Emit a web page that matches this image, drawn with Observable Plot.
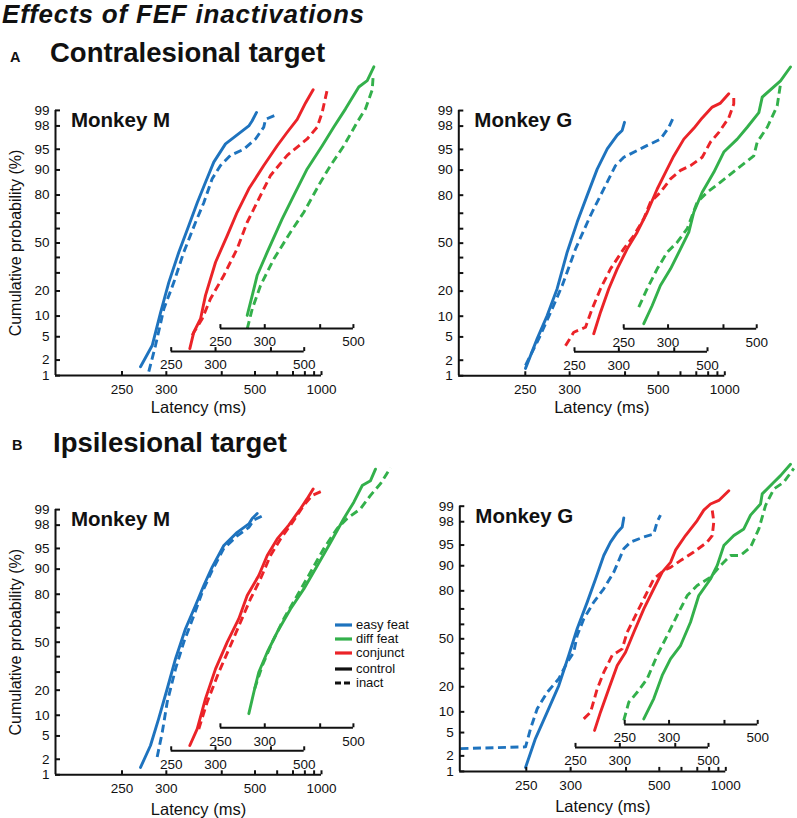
<!DOCTYPE html>
<html>
<head>
<meta charset="utf-8">
<script src="https://cdn.jsdelivr.net/npm/d3@7"></script>
<script src="https://cdn.jsdelivr.net/npm/@observablehq/plot@0.6"></script>
<style>
  body { margin: 0; background: #fff; }
  #fig { position: relative; width: 797px; height: 818px; font-family: Arial, "Liberation Sans", Helvetica, sans-serif; color: #111; }
  .t { position: absolute; white-space: nowrap; line-height: 1; }
  .leg { position: absolute; left: 335px; height: 12px; display: flex; align-items: center; font-size: 13px; line-height: 12px; }
  .leg svg { margin-right: 4px; }
</style>
</head>
<body>
<div id="fig">
  <div class="t" style="left:2px; top:1px; font-size:26px; letter-spacing:0.8px; font-weight:bold; font-style:italic;">Effects of FEF inactivations</div>
  <div class="t" style="left:10px; top:50px; font-size:14.5px; font-weight:bold;">A</div>
  <div class="t" style="left:50px; top:38.5px; font-size:27.5px; font-weight:bold;">Contralesional target</div>
  <div class="t" style="left:12px; top:438px; font-size:14.5px; font-weight:bold;">B</div>
  <div class="t" style="left:53px; top:428.5px; font-size:27.5px; font-weight:bold;">Ipsilesional target</div>
  <div id="legend"></div>
</div>
<script>
// ---------- data: [latency (ms), cumulative probability (%)] ----------
const condNames = ["easy feat", "diff feat", "conjunct"];
const condColors = ["#1e73be", "#33b04b", "#eb2328"];
const kindNames = ["control", "inact"];

// A, Monkey M
const A_M_easy_control = [[268.7,1.5],[282,3.6],[292.3,11],[303.4,24.5],[317.9,43.6],[333.9,62],[348.6,76],[364.4,85.7],[381.7,92.2],[409.2,95.9],[440.9,97.1],[477.8,98],[489.7,98.4],[505.8,98.9]];
const A_M_easy_inact = [[278,1.2],[286,3.6],[296.7,12.4],[310.5,24.5],[325.6,43.6],[345.4,64],[361,76],[378.2,87],[397,91.3],[422.3,93.8],[461.3,95],[502,96.6],[535.3,97.9],[543,98.5],[600,98.8]];
const A_M_conj_control = [[268.8,3.2],[273.2,5.9],[281,9.2],[287,17.9],[300,36.8],[316.7,55.2],[332.4,70.5],[353,82.9],[383.4,91.3],[415.6,95.6],[443.3,97.4],[475,98.5],[505,99.3],[536,99.64]];
const A_M_conj_inact = [[271.4,5.3],[283,9.2],[293.3,16.4],[311.6,28.4],[332.4,46],[350,64.2],[369.4,76.3],[398.9,88.2],[443.3,93.8],[511.5,96.6],[554,97.9],[578,98.9],[604.6,99.64]];
const A_M_diff_control = [[278,10.2],[284,17.9],[290,28.4],[303.4,43.6],[325.6,66.4],[345.3,79.8],[371,90.3],[405,95.6],[435.7,97.9],[472,99.07],[521,99.69],[558,99.78],[590.7,99.9]];
const A_M_diff_inact = [[278,6.6],[284,12.4],[294.4,22.8],[312.8,39],[339.4,57.5],[364.2,70.5],[400.8,85.7],[426.6,91.3],[466.4,95.6],[514.7,98.3],[550,99.07],[582.4,99.64],[587.5,99.84]];

// A, Monkey G
const A_G_easy_control = [[250.2,1.4],[261.7,4.7],[272.4,10.2],[284,21.2],[296.7,43.7],[310.6,64.4],[325.8,79.9],[342.6,90.3],[361.3,95.1],[382,97.1],[393.2,97.6],[398.7,98.3]];
const A_G_easy_inact = [[250.2,1.6],[263.4,4.7],[278.2,12.5],[290.3,22.9],[308.2,46],[331.1,68.6],[348.6,79.9],[364.4,87],[378.2,91.3],[397,93.4],[450.9,95.4],[508.4,96.6],[543,97.9],[563,98.6]];
const A_G_conj_control = [[269.5,5.6],[277.1,11.3],[287,21.2],[297.8,32.6],[311.7,46],[327.1,57.6],[344,70.6],[362.8,82.9],[380,89.3],[398.9,93.7],[424.4,96.6],[453.3,97.8],[480.8,98.6],[518.4,99.15],[554,99.3],[595,99.56]];
const A_G_conj_inact = [[241.8,3.6],[249.3,5.9],[260.8,7],[267.8,12.5],[277.1,21.2],[289.1,32.6],[306.8,46],[321.7,55.3],[338,66.6],[350,76.4],[369.4,81.4],[391.2,87],[415.6,89.9],[443.3,91.3],[480.8,93.4],[511.5,96.2],[546.4,97.4],[595,98.6],[623,99.27],[623,99.56]];
const A_G_diff_control = [[270.4,7.9],[280,13.7],[290,22.9],[303.4,32.6],[317.9,46],[331,57.6],[339.4,70.6],[354.6,81.4],[378,89.3],[400.8,94.5],[436.1,96.6],[466.6,97.9],[508.1,98.9],[521.6,99.48],[609,99.78],[670,99.9]];
const A_G_diff_inact = [[265,13.1],[274.2,21.2],[286,32.6],[298.9,43.7],[313,50.7],[328.4,60],[345.4,76.4],[364.4,81.4],[393.1,85.8],[436.1,90.4],[489.2,93.7],[502,96.2],[543,97.9],[591,99.2],[609,99.74]];

// B, Monkey M
const B_M_easy_control = [[268.7,1.4],[280,3.5],[290,9],[301.2,20.7],[313,38.6],[328.4,59.3],[345.4,74],[361,84],[378.2,90.6],[405,95.5],[440.9,97.3],[477.8,98.1],[489.7,98.5],[508.4,98.8]];
const B_M_easy_inact = [[288.1,2.2],[294.6,5.7],[301.2,14.7],[313,32],[325.6,50],[342.5,68],[357.9,81],[378.2,89.6],[405,95],[440.9,96.9],[477.8,97.8],[495.5,98.4],[535.3,98.7]];
const B_M_conj_control = [[268.8,3.5],[277.1,6.4],[287,16.1],[300,32],[316.7,50],[335.2,66],[350,79.4],[372.7,87.9],[391.2,93.6],[415.6,96.5],[448,98],[486.4,99.04],[511.5,99.41],[536,99.64]];
const B_M_conj_inact = [[278.9,6.4],[289.1,14.7],[304.5,29.9],[321.7,47.7],[338,63.7],[356.1,77.6],[376.4,86.7],[398.9,93.6],[424.4,96.5],[458.7,98.2],[498.5,99.18],[532,99.5],[578,99.6]];
const B_M_diff_control = [[279.9,10.5],[285.9,19],[292.1,29.9],[303.4,43],[317.9,57],[339.4,72],[364.2,82.5],[393.1,91],[426.6,96],[466.4,98.5],[501.5,99.3],[535.3,99.7],[573.7,99.77],[599.5,99.88]];
const B_M_diff_inact = [[286.8,20.6],[296.7,34],[310.5,50],[328.2,66],[351.5,79.4],[378,89],[409,95],[445.6,97.7],[477.8,98.5],[528.3,99.04],[573.7,99.5],[628,99.73],[693.5,99.89]];

// B, Monkey G
const B_G_easy_control = [[249.3,1.2],[258.9,4],[271.3,9.9],[284.8,20.6],[297.5,38.6],[309.1,57],[324.3,74],[338,85.3],[352.7,92.8],[365.8,95.5],[379.8,96.9],[391,97.5],[394.6,98.3]];
const B_G_easy_inact = [[200.4,2.7],[249.3,2.9],[254,5.7],[260.7,11],[271.3,17.4],[284.8,24.2],[295.4,34],[304.3,40.7],[309.1,52.3],[319,63.7],[335,74],[352.7,81],[372.6,87.9],[394.6,94.3],[411,95.5],[447.8,96.3],[480,96.7],[492,98],[504.5,98.5]];
const B_G_conj_control = [[269.3,5.4],[275.9,9.9],[285.8,19],[296.5,32],[307.9,40.7],[320.2,54.6],[336.4,70],[354.2,81],[370.9,87.9],[389,91],[400.6,94],[426.3,96.5],[460.8,98.1],[482.9,98.8],[507.6,99.1],[542,99.24],[590,99.53]];
const B_G_conj_inact = [[258,8],[265,9.9],[272.2,19],[279.8,27.9],[290,38.6],[303.2,43],[310.3,54.6],[325.5,68],[342.2,79.4],[354.2,85.3],[374.3,88.5],[389,89.5],[413,91.5],[450.2,93.6],[495,95.5],[514.4,96.5],[520.8,98],[514.4,98.8]];
const B_G_diff_control = [[269.3,8],[280.7,14.7],[291,26],[302,36.3],[316.4,45.3],[332.1,61.4],[346.5,77.6],[369,85.3],[383.3,90.1],[398.4,94.9],[423.9,96.5],[452.7,97.3],[474.4,98.5],[510.7,99.1],[517.6,99.45],[568.8,99.7],[603.5,99.79],[663.6,99.89]];
const B_G_diff_inact = [[249.1,7.6],[253.9,13.3],[262.3,17.4],[273.1,24.2],[284.8,38.6],[297.5,52.3],[311.4,66],[326.8,77.6],[343.6,82.5],[369,86],[390.8,90.1],[415.1,92.8],[442.7,92.8],[474.4,94.6],[504.3,97.3],[531,99.03],[568.8,99.57],[621.9,99.7],[686.3,99.86]];

// tick values
const yTickValues = [1, 2, 5, 10, 20, 30, 40, 50, 60, 70, 80, 90, 95, 98, 99];
const yTickLabels = [1, 2, 5, 10, 20, 50, 80, 90, 95, 98, 99];
const xMainTicks = [250, 300, 400, 500, 600, 700, 800, 900, 1000];
const xMainLabels = [250, 300, 500, 1000];
const xSubTicks = [250, 300, 400, 500];
const xSubLabels = [250, 300, 500];

// ---------- helpers ----------
function probit(p) {
  const a=[-3.969683028665376e+01,2.209460984245205e+02,-2.759285104469687e+02,1.383577518672690e+02,-3.066479806614716e+01,2.506628277459239e+00];
  const b=[-5.447609879822406e+01,1.615858368580409e+02,-1.556989798598866e+02,6.680131188771972e+01,-1.328068155288572e+01];
  const c=[-7.784894002430293e-03,-3.223964580411365e-01,-2.400758277161838e+00,-2.549671010229583e+00,4.374664141464968e+00,2.938163982698783e+00];
  const d=[7.784695709041462e-03,3.224671290700398e-01,2.445134137142996e+00,3.754408661907416e+00];
  const pl = 0.02425, ph = 1 - pl;
  let q, r;
  if (p < pl) { q = Math.sqrt(-2*Math.log(p)); return (((((c[0]*q+c[1])*q+c[2])*q+c[3])*q+c[4])*q+c[5])/((((d[0]*q+d[1])*q+d[2])*q+d[3])*q+1); }
  if (p <= ph) { q = p - 0.5; r = q*q; return (((((a[0]*r+a[1])*r+a[2])*r+a[3])*r+a[4])*r+a[5])*q/(((((b[0]*r+b[1])*r+b[2])*r+b[3])*r+b[4])*r+1); }
  q = Math.sqrt(-2*Math.log(1-p));
  return -(((((c[0]*q+c[1])*q+c[2])*q+c[3])*q+c[4])*q+c[5])/((((d[0]*q+d[1])*q+d[2])*q+d[3])*q+1);
}
const recip = t => -1000 / t;             // reciprocal latency axis (1/s)
const zOf = pct => probit(pct / 100);      // probit axis
const offsets = {"easy feat": 0, "conjunct": 0.74, "diff feat": 1.48}; // stacked offset axes
const PXX = 66.5, PXY = 57;                // pixels per unit
const FONT = "Arial, 'Liberation Sans', Helvetica, sans-serif";

function panel(cfg) {
  const rows = [];
  for (const [cond, kind, arr] of cfg.curves)
    for (const [lat, pct] of arr) rows.push({cond, kind, lat, pct, key: cond + kind});
  const X = r => recip(r.lat) + offsets[r.cond];
  const Y = r => zOf(r.pct);
  const z1 = zOf(1), z99 = zOf(99);
  const tickUp = 4 / PXY, tickRight = 5 / PXX;
  const subAxes = [["conjunct", -24], ["diff feat", -47]];
  const marks = [
    Plot.line(rows.filter(r => r.kind === "control"), {x: X, y: Y, z: "key", stroke: "cond", strokeWidth: 2.9, strokeLinejoin: "round", strokeLinecap: "round"}),
    Plot.line(rows.filter(r => r.kind === "inact"), {x: X, y: Y, z: "key", stroke: "cond", strokeWidth: 2.9, strokeLinejoin: "round", strokeLinecap: "butt", strokeDasharray: "8,4.5"}),
    // y axis
    Plot.ruleX([-5], {y1: z1, y2: z99, stroke: "#111", strokeWidth: 2}),
    Plot.ruleY(yTickValues, {y: zOf, x1: -5, x2: -5 + tickRight, stroke: "#111", strokeWidth: 2}),
    Plot.text(yTickLabels, {x: -5, y: zOf, text: d => String(d), dx: -6, textAnchor: "end", fontSize: 13.5, fontFamily: FONT, fill: "#111"}),
    // main x axis
    Plot.ruleY([z1], {x1: -5, x2: recip(1000), stroke: "#111", strokeWidth: 2}),
    Plot.ruleX(xMainTicks, {x: recip, y1: z1, y2: z1 + tickUp, stroke: "#111", strokeWidth: 2}),
    Plot.text(xMainLabels, {x: recip, y: z1, dy: 14, text: d => String(d), fontSize: 13.5, fontFamily: FONT, fill: "#111"}),
    Plot.text(["Latency (ms)"], {x: -5, y: z1, dx: 143, dy: cfg.latDy, fontSize: 16.5, fontFamily: FONT, fill: "#111"}),
    Plot.text([cfg.monkey], {x: -5, y: z99, dx: 15.5, dy: 16.5, textAnchor: "start", lineAnchor: "bottom", fontSize: 20.5, fontWeight: "bold", fontFamily: FONT, fill: "#111"})
  ];
  for (const [cond, dy] of subAxes) {
    const o = offsets[cond];
    marks.push(
      Plot.ruleY([z1], {x1: recip(250) + o, x2: recip(500) + o, dy, stroke: "#111", strokeWidth: 2}),
      Plot.ruleX(xSubTicks, {x: t => recip(t) + o, y1: z1, y2: z1 + tickUp, dy, stroke: "#111", strokeWidth: 2}),
      Plot.text(xSubLabels, {x: t => recip(t) + o, y: z1, dy: dy + 13.5, text: d => String(d), fontSize: 13.5, fontFamily: FONT, fill: "#111"})
    );
  }
  if (cfg.ylab) marks.push(Plot.text(["Cumulative probability (%)"], {x: -5, y: 0, dx: -40, rotate: -90, fontSize: 16, fontFamily: FONT, fill: "#111"}));
  const svg = Plot.plot({
    width: 797, height: 818, margin: 0,
    x: {type: "linear", domain: [-5, 0], range: [cfg.X0, cfg.X0 + 5 * PXX], axis: null},
    y: {type: "linear", domain: [0, 1], range: [cfg.Yc, cfg.Yc - PXY], axis: null},
    color: {domain: condNames, range: condColors},
    marks
  });
  Object.assign(svg.style, {position: "absolute", left: "0px", top: "0px", background: "transparent", overflow: "visible", maxWidth: "none"});
  document.getElementById("fig").appendChild(svg);
}

panel({X0: 55, Yc: 242.5, monkey: "Monkey M", ylab: true, latDy: 32, curves: [
  ["easy feat","control",A_M_easy_control],["easy feat","inact",A_M_easy_inact],
  ["conjunct","control",A_M_conj_control],["conjunct","inact",A_M_conj_inact],
  ["diff feat","control",A_M_diff_control],["diff feat","inact",A_M_diff_inact]]});
panel({X0: 458.3, Yc: 242.65, monkey: "Monkey G", ylab: false, latDy: 32, curves: [
  ["easy feat","control",A_G_easy_control],["easy feat","inact",A_G_easy_inact],
  ["conjunct","control",A_G_conj_control],["conjunct","inact",A_G_conj_inact],
  ["diff feat","control",A_G_diff_control],["diff feat","inact",A_G_diff_inact]]});
panel({X0: 55, Yc: 641.7, monkey: "Monkey M", ylab: true, latDy: 34.5, curves: [
  ["easy feat","control",B_M_easy_control],["easy feat","inact",B_M_easy_inact],
  ["conjunct","control",B_M_conj_control],["conjunct","inact",B_M_conj_inact],
  ["diff feat","control",B_M_diff_control],["diff feat","inact",B_M_diff_inact]]});
panel({X0: 459.3, Yc: 638.3, monkey: "Monkey G", ylab: false, latDy: 35, curves: [
  ["easy feat","control",B_G_easy_control],["easy feat","inact",B_G_easy_inact],
  ["conjunct","control",B_G_conj_control],["conjunct","inact",B_G_conj_inact],
  ["diff feat","control",B_G_diff_control],["diff feat","inact",B_G_diff_inact]]});

// ---------- legend ----------
const legendRows = [
  {label: condNames[0], color: condColors[0], dash: null, cy: 624.5},
  {label: condNames[1], color: condColors[1], dash: null, cy: 638.5},
  {label: condNames[2], color: condColors[2], dash: null, cy: 652.5},
  {label: kindNames[0], color: "#111", dash: null, cy: 669},
  {label: kindNames[1], color: "#111", dash: "6,3", cy: 683.3}
];
const leg = document.getElementById("legend");
for (const r of legendRows) {
  const div = document.createElement("div");
  div.className = "leg";
  div.style.top = (r.cy - 6) + "px";
  div.innerHTML = `<svg width="17" height="12"><line x1="0" x2="17" y1="6" y2="6" stroke="${r.color}" stroke-width="3.2"${r.dash ? ` stroke-dasharray="${r.dash}"` : ""}/></svg><span>${r.label}</span>`;
  leg.appendChild(div);
}
</script>
</body>
</html>
